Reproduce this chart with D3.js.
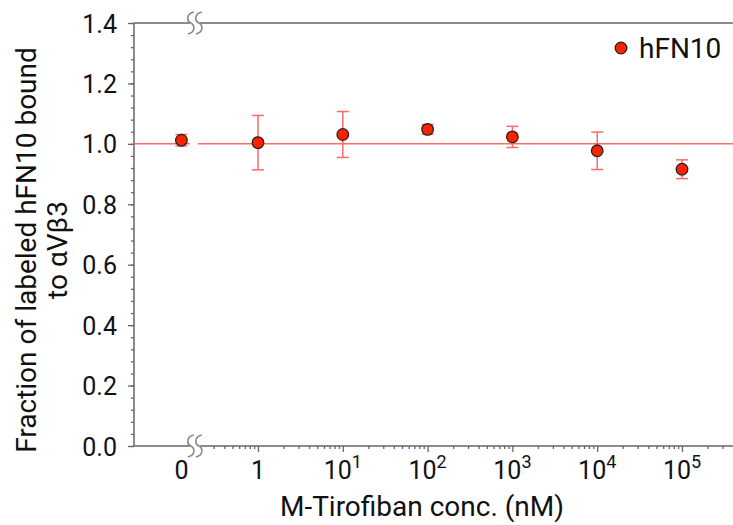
<!DOCTYPE html>
<html>
<head>
<meta charset="utf-8">
<script src="https://cdn.jsdelivr.net/npm/d3@7"></script>
<style>
  body { margin: 0; background: #fff; }
  text { font-family: Roboto, "Noto Sans", sans-serif; fill: #111; }
</style>
</head>
<body>
<svg id="chart" width="733" height="525"></svg>
<script>
// concentrations (nM), 0 is drawn left of the axis break
var conc = [0, 1, 10, 100, 1000, 10000, 100000]
var fraction = [1.012, 1.004, 1.031, 1.048, 1.023, 0.977, 0.916]
var errs = [0.019, 0.090, 0.076, 0.016, 0.035, 0.062, 0.031]
var yTicks = [0.0, 0.2, 0.4, 0.6, 0.8, 1.0, 1.2, 1.4]
var xTickVals = [1, 10, 100, 1000, 10000, 100000]
var xTickExp = ["", "1", "2", "3", "4", "5"]
var refLine = 1.0
var seriesName = "hFN10"

var svg = d3.select("#chart"),
	margin = {top: 23, right: 0, bottom: 79, left: 134},
	width = +svg.attr("width") - margin.left - margin.right,
	height = +svg.attr("height") - margin.top - margin.bottom,
	g = svg.append("g").attr("transform", "translate(" + margin.left + "," + margin.top + ")");

var axisColor = "#666"
var redLine = "#ff6a6a"

var xLog = d3.scaleLog()
	.domain([1, 100000])
	.range([258 - margin.left, 682 - margin.left]);

// where "0" sits and where the axis break is
var zeroX = xLog(0.125)
var breakX = xLog(0.18)
function xPos(d) { return d === 0 ? zeroX : xLog(d); }

var yScale = d3.scaleLinear()
	.domain([0, 1.4])
	.range([height, 0]);

// y axis, major + minor ticks
var yAxis = d3.axisLeft(yScale).tickValues(yTicks).tickFormat(d3.format(".1f")).tickSize(6).tickPadding(11);
var yMinor = d3.axisLeft(yScale).tickValues(d3.range(0, 1.401, 0.04)).tickFormat("").tickSize(3);

g.append("g").attr("class", "yminor").call(yMinor);
var ya = g.append("g").attr("class", "yaxis").call(yAxis);
ya.selectAll("text").style("font-size", "25px").attr("dy", "0.36em");
g.selectAll(".yaxis path, .yminor path").remove();
g.selectAll(".yaxis line, .yminor line").attr("stroke", axisColor).attr("stroke-width", 1.3);
g.append("line")
	.attr("x1", 0).attr("x2", 0).attr("y1", 0).attr("y2", height)
	.attr("stroke", axisColor).attr("stroke-width", 1.5);

// x axis ticks (log decades + minor)
var minorVals = []
for (var e = -1; e <= 5; e++) {
	for (var m = 2; m <= 9; m++) {
		var v = m * Math.pow(10, e)
		if (xLog(v) > breakX + 6 && xLog(v) < width) minorVals.push(v)
	}
}
var xMinor = d3.axisBottom(xLog).tickValues(minorVals).tickFormat("").tickSize(3);
var xMajor = d3.axisBottom(xLog).tickValues(xTickVals).tickFormat("").tickSize(6);
g.append("g").attr("class", "xminor").attr("transform", "translate(0," + height + ")").call(xMinor);
g.append("g").attr("class", "xmajor").attr("transform", "translate(0," + height + ")").call(xMajor);
g.selectAll(".xminor path, .xmajor path").remove();
g.selectAll(".xminor line, .xmajor line").attr("stroke", axisColor).attr("stroke-width", 1.3);

// bottom and top frame lines, broken at breakX
;[height, 0].forEach(function(yy) {
	g.append("line").attr("x1", 0).attr("x2", breakX - 5).attr("y1", yy).attr("y2", yy)
		.attr("stroke", axisColor).attr("stroke-width", 1.5);
	g.append("line").attr("x1", breakX + 5).attr("x2", width).attr("y1", yy).attr("y2", yy)
		.attr("stroke", axisColor).attr("stroke-width", 1.5);
	[-4, 4].forEach(function(dx) {
		var cx = breakX + dx
		g.append("path")
			.attr("d", "M" + (cx + 3) + "," + (yy - 11) + " C" + (cx - 5) + "," + (yy - 9) + " " + (cx - 4) + "," + (yy - 2) + " " + cx + "," + yy +
				" C" + (cx + 4) + "," + (yy + 2) + " " + (cx + 5) + "," + (yy + 9) + " " + (cx - 3) + "," + (yy + 11))
			.attr("fill", "none").attr("stroke", "#888").attr("stroke-width", 1.6);
	});
});

// x tick labels
var xLabels = g.append("g").attr("class", "xlabels")
var allTicks = [0].concat(xTickVals)
allTicks.forEach(function(d, i) {
	var t = xLabels.append("text")
		.attr("x", xPos(d))
		.attr("y", height + 33)
		.attr("text-anchor", "middle")
		.style("font-size", "25px");
	if (d === 0) t.text("0");
	else if (d === 1) t.text("1");
	else {
		t.append("tspan").text("10");
		t.append("tspan").attr("dy", "-11").style("font-size", "18px").text(xTickExp[i - 1]);
	}
});

// reference line at 1.0
g.append("line").attr("x1", 0).attr("x2", breakX - 5)
	.attr("y1", yScale(refLine)).attr("y2", yScale(refLine))
	.attr("stroke", redLine).attr("stroke-width", 1.5);
g.append("line").attr("x1", breakX + 3).attr("x2", width)
	.attr("y1", yScale(refLine)).attr("y2", yScale(refLine))
	.attr("stroke", redLine).attr("stroke-width", 1.5);

// error bars
var data = conc.map(function(c, i) { return {x: c, y: fraction[i], e: errs[i]}; });
var eb = g.append("g").selectAll("g").data(data).enter().append("g")
	.attr("stroke", redLine).attr("stroke-width", 1.5);
eb.append("line")
	.attr("x1", function(d) { return xPos(d.x); })
	.attr("x2", function(d) { return xPos(d.x); })
	.attr("y1", function(d) { return yScale(d.y + d.e); })
	.attr("y2", function(d) { return yScale(d.y - d.e); });
[1, -1].forEach(function(s) {
	eb.append("line")
		.attr("x1", function(d) { return xPos(d.x) - 6; })
		.attr("x2", function(d) { return xPos(d.x) + 6; })
		.attr("y1", function(d) { return yScale(d.y + s * d.e); })
		.attr("y2", function(d) { return yScale(d.y + s * d.e); });
});

// points
g.append("g").selectAll("circle").data(data).enter().append("circle")
	.attr("cx", function(d) { return xPos(d.x); })
	.attr("cy", function(d) { return yScale(d.y); })
	.attr("r", 5.8)
	.attr("fill", "#ff2200")
	.attr("stroke", "#222")
	.attr("stroke-width", 1.3);

// legend
svg.append("circle").attr("cx", 621).attr("cy", 48).attr("r", 5.8)
	.attr("fill", "#ff2200").attr("stroke", "#222").attr("stroke-width", 1.3);
svg.append("text").attr("x", 639).attr("y", 58).style("font-size", "28px").text(seriesName);

// axis titles
svg.append("text")
	.attr("transform", "translate(36,250) rotate(-90)")
	.attr("text-anchor", "middle")
	.style("font-size", "28px")
	.text("Fraction of labeled hFN10 bound");
svg.append("text")
	.attr("transform", "translate(67,250) rotate(-90)")
	.attr("text-anchor", "middle")
	.style("font-size", "28px")
	.text("to \u03b1V\u03b23");
svg.append("text")
	.attr("x", 422).attr("y", 516)
	.attr("text-anchor", "middle")
	.style("font-size", "28px")
	.text("M-Tirofiban conc. (nM)");
</script>
</body>
</html>
